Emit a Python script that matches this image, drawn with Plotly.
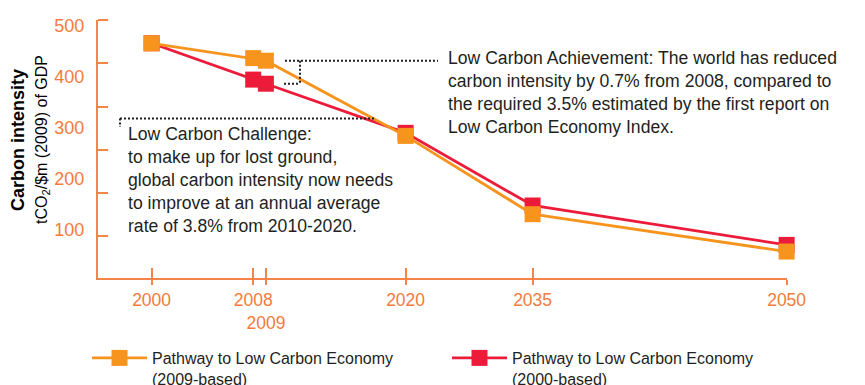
import numpy as np
import plotly.graph_objects as go

# ---- data -------------------------------------------------------------
years = [2000, 2008, 2009, 2020, 2035, 2050]
pathway_2009_based = [465, 436, 431, 284, 131, 58]
pathway_2000_based = [465, 394, 386, 290, 148, 71]

x_tick_years = [2000, 2008, 2009, 2020, 2035, 2050]
x_tick_text = ["2000", "2008", "<br>2009", "2020", "2035", "2050"]
y_tick_vals = [100, 200, 300, 400, 500]
y_tick_text = ["100", "200", "300", "400", "500"]

series_names = [
    "Pathway to Low Carbon Economy<br>(2009-based)",
    "Pathway to Low Carbon Economy<br>(2000-based)",
]

achievement_text = "<br>".join([
    "Low Carbon Achievement: The world has reduced",
    "carbon intensity by 0.7% from 2008, compared to",
    "the required 3.5% estimated by the first report on",
    "Low Carbon Economy Index.",
])
challenge_text = "<br>".join([
    "Low Carbon Challenge:",
    "to make up for lost ground,",
    "global carbon intensity now needs",
    "to improve at an annual average",
    "rate of 3.8% from 2010-2020.",
])

# ---- styling ----------------------------------------------------------
ORANGE = "#F7941E"
RED = "#ED1B3A"
AXIS = "#F5844A"
TICK = "#F47B3C"
TEXT = "#231F20"
FONT = "Liberation Sans, Arial, Helvetica, sans-serif"

W, H = 865, 385
ML, MR, MT, MB = 98, 78, 20, 107
PW, PH = W - ML - MR, H - MT - MB


# Broken time axis: 2020-2035 is compressed, 2035-2050 is stretched.
def axis_pos(year):
    return np.interp(year, [2000, 2020, 2035, 2050], [0, 20, 30, 50])


def px_x(px):
    return (px - ML) / PW


def px_y(py):
    return (H - MB - py) / PH


fig = go.Figure()

fig.add_trace(go.Scatter(
    x=axis_pos(years), y=pathway_2000_based, name=series_names[1],
    mode="lines+markers", legendrank=2, cliponaxis=False,
    line=dict(color=RED, width=2.8),
    marker=dict(symbol="square", size=16, color=RED, line=dict(width=0)),
))
fig.add_trace(go.Scatter(
    x=axis_pos(years), y=pathway_2009_based, name=series_names[0],
    mode="lines+markers", legendrank=1, cliponaxis=False,
    line=dict(color=ORANGE, width=2.8),
    marker=dict(symbol="square", size=16, color=ORANGE, line=dict(width=0)),
))
# carrier for the overlaid axis that draws the upper half of the x ticks
fig.add_trace(go.Scatter(x=[None], y=[None], xaxis="x2", showlegend=False,
                         hoverinfo="skip"))

dot = dict(color=TEXT, width=2, dash="2px,2px")
shapes = [
    # bracket pointing at the 2009 values
    dict(type="line", xref="paper", yref="y", x0=px_x(285), x1=px_x(438),
         y0=pathway_2009_based[2], y1=pathway_2009_based[2], line=dot),
    dict(type="line", xref="paper", yref="y", x0=px_x(300), x1=px_x(300),
         y0=pathway_2009_based[2], y1=pathway_2000_based[2], line=dot),
    dict(type="line", xref="paper", yref="y", x0=px_x(284), x1=px_x(300),
         y0=pathway_2000_based[2], y1=pathway_2000_based[2], line=dot),
    # leader for the challenge note
    dict(type="line", xref="paper", yref="paper", x0=px_x(120), x1=px_x(376),
         y0=px_y(118.5), y1=px_y(118.5), line=dot),
    dict(type="line", xref="paper", yref="paper", x0=px_x(120), x1=px_x(120),
         y0=px_y(118.5), y1=px_y(127), line=dot),
]

annotations = [
    dict(text=achievement_text, xref="paper", yref="paper",
         x=px_x(446), y=px_y(46), xanchor="left", yanchor="top", align="left",
         showarrow=False, font=dict(family=FONT, size=17.6, color=TEXT)),
    dict(text=challenge_text, xref="paper", yref="paper",
         x=px_x(126), y=px_y(122), xanchor="left", yanchor="top", align="left",
         showarrow=False, font=dict(family=FONT, size=17.6, color=TEXT)),
    # two-line y-axis title
    dict(text="<b>Carbon intensity</b>", xref="paper", yref="paper",
         x=px_x(18), y=px_y(140), xanchor="center", yanchor="middle",
         textangle=-90, showarrow=False,
         font=dict(family=FONT, size=18, color="#000000")),
    dict(text="tCO<sub>2</sub>/$m (2009) of GDP", xref="paper", yref="paper",
         x=px_x(42), y=px_y(140), xanchor="center", yanchor="middle",
         textangle=-90, showarrow=False,
         font=dict(family=FONT, size=16, color="#000000")),
]

fig.update_layout(
    width=W, height=H,
    margin=dict(l=ML, r=MR, t=MT, b=MB, autoexpand=False),
    paper_bgcolor="white", plot_bgcolor="white",
    font=dict(family=FONT, color=TEXT),
    showlegend=True,
    legend=dict(
        orientation="h", x=px_x(87), y=px_y(341), xanchor="left", yanchor="top",
        font=dict(family=FONT, size=16, color=TEXT), valign="top",
        itemwidth=55, entrywidth=290, entrywidthmode="pixels",
        bgcolor="rgba(0,0,0,0)",
    ),
    xaxis=dict(
        range=[-4.22, 50.03], tickmode="array", tickangle=0, automargin=False,
        tickvals=axis_pos(x_tick_years), ticktext=x_tick_text,
        ticks="outside", ticklen=5, tickwidth=1.5, tickcolor=AXIS,
        showline=True, linecolor=AXIS, linewidth=1.5,
        showgrid=False, zeroline=False,
        tickfont=dict(family=FONT, size=17.5, color=TICK),
    ),
    xaxis2=dict(
        overlaying="x", matches="x", anchor="y", side="bottom",
        tickmode="array", tickvals=axis_pos(x_tick_years),
        ticks="inside", ticklen=10, tickwidth=1.5, tickcolor=AXIS,
        showticklabels=False, showline=False, showgrid=False, zeroline=False,
    ),
    yaxis=dict(
        range=[6.3, 510.5], tickmode="array", automargin=False,
        tickvals=y_tick_vals, ticktext=y_tick_text,
        ticks="", showline=True, linecolor=AXIS, linewidth=2,
        showgrid=False, zeroline=False, ticklabelstandoff=8,
        tickfont=dict(family=FONT, size=18, color=TICK),
        minor=dict(ticks="inside", ticklen=10, tickwidth=1.5, tickcolor=AXIS,
                   tickmode="linear", tick0=88.3, dtick=84.3, showgrid=False),
    ),
    shapes=shapes,
    annotations=annotations,
)

fig.write_html("out.html")
